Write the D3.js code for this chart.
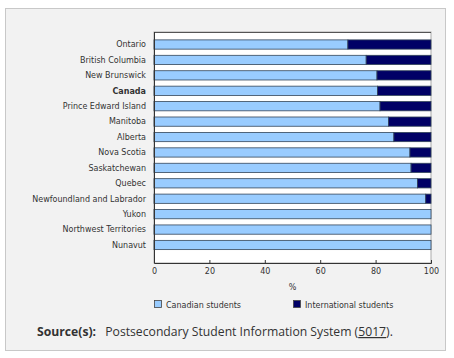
<!DOCTYPE html>
<html><head><meta charset="utf-8">
<script src="https://cdn.jsdelivr.net/npm/d3@7"></script>
<style>
html,body{margin:0;padding:0;background:#fff;}
svg{display:block;}
</style></head>
<body>
<script>
const categories = ["Ontario","British Columbia","New Brunswick","Canada","Prince Edward Island","Manitoba","Alberta","Nova Scotia","Saskatchewan","Quebec","Newfoundland and Labrador","Yukon","Northwest Territories","Nunavut"];
const canadian = [70.0,76.6,80.5,80.7,81.6,84.7,86.6,92.4,92.8,95.1,98.1,100,100,100];
const international = canadian.map(v => +(100 - v).toFixed(1));
const xTicks = [0,20,40,60,80,100];
const seriesNames = ["Canadian students","International students"];
const colors = ["#99ccff","#000066"];

const W = 454, H = 358;
const svg = d3.select("body").append("svg").attr("width",W).attr("height",H);
const FONT = "DejaVu Sans, Verdana, sans-serif", FS = "8px";

// panel
svg.append("rect").attr("x",5.5).attr("y",8.5).attr("width",440).attr("height",342)
  .attr("fill","#f2f2f2").attr("stroke","#c8c8c8");

const plot = {l:154, r:431, t:32, b:263};
const x = d3.scaleLinear().domain([0,100]).range([plot.l, plot.r]);
const y = d3.scaleBand().domain(categories).range([36.8, 252.7]).paddingInner(0.4).paddingOuter(0.2);

svg.append("rect").attr("x",plot.l).attr("y",plot.t).attr("width",plot.r-plot.l).attr("height",plot.b-plot.t)
  .attr("fill","#fff").attr("stroke","#aaa").attr("stroke-width",1);
svg.append("line").attr("x1",plot.l).attr("x2",plot.r).attr("y1",plot.t+0.5).attr("y2",plot.t+0.5).attr("stroke","#555");

const stack = categories.map((c,i)=>({c, a:canadian[i], b:international[i]}));
const g = svg.append("g");
g.selectAll("rect.can").data(stack).join("rect").attr("class","can")
  .attr("x",x(0)).attr("y",d=>y(d.c)).attr("width",d=>x(d.a)-x(0)).attr("height",y.bandwidth())
  .attr("fill",colors[0]).attr("stroke","#34465a").attr("stroke-width",0.8);
g.selectAll("rect.int").data(stack.filter(d=>d.b>0)).join("rect").attr("class","int")
  .attr("x",d=>x(d.a)).attr("y",d=>y(d.c)).attr("width",d=>x(d.a+d.b)-x(d.a)).attr("height",y.bandwidth())
  .attr("fill",colors[1]).attr("stroke","#34465a").attr("stroke-width",0.8);

// y labels
svg.append("g").selectAll("text").data(categories).join("text")
  .attr("x",plot.l-8).attr("y",d=>y(d)+y.bandwidth()/2).attr("dy","0.35em")
  .attr("text-anchor","end").attr("font-family",FONT)
  .attr("font-size",FS).attr("fill","#333")
  .attr("font-weight",d=>d==="Canada"?"bold":"normal").text(d=>d);

// x axis
const xa = svg.append("g").attr("transform",`translate(0,${plot.b})`)
  .call(d3.axisBottom(x).tickValues(xTicks).tickSize(-3).tickPadding(5).tickFormat(d3.format("d")));
xa.select(".domain").attr("stroke","#333");
xa.selectAll(".tick line").attr("stroke","#333");
xa.selectAll("text").attr("font-family",FONT).attr("font-size",FS).attr("fill","#333");
svg.append("line").attr("x1",plot.l+0.5).attr("x2",plot.l+0.5).attr("y1",plot.t).attr("y2",plot.b).attr("stroke","#333");

svg.append("text").attr("x",(plot.l+plot.r)/2).attr("y",290).attr("text-anchor","middle")
  .attr("font-family",FONT).attr("font-size",FS).attr("fill","#333").text("%");

// legend
const legX = [154,293];
seriesNames.forEach((n,i)=>{
  svg.append("rect").attr("x",legX[i]+0.5).attr("y",300.5).attr("width",7).attr("height",7)
    .attr("fill",colors[i]).attr("stroke","#444").attr("stroke-width",0.8);
  svg.append("text").attr("x",legX[i]+12).attr("y",307.5)
    .attr("font-family",FONT).attr("font-size",FS).attr("fill","#333").text(n);
});

// source
const src = svg.append("text").attr("x",37).attr("y",336)
  .attr("font-family","Open Sans, Noto Sans, sans-serif").attr("font-size","12.2px").attr("fill","#333");
src.append("tspan").attr("font-weight","bold").text("Source(s):");
src.append("tspan").attr("dx","6").text("\u00a0Postsecondary Student Information System (");
src.append("tspan").attr("text-decoration","underline").text("5017");
src.append("tspan").text(").");
</script>
</body></html>
